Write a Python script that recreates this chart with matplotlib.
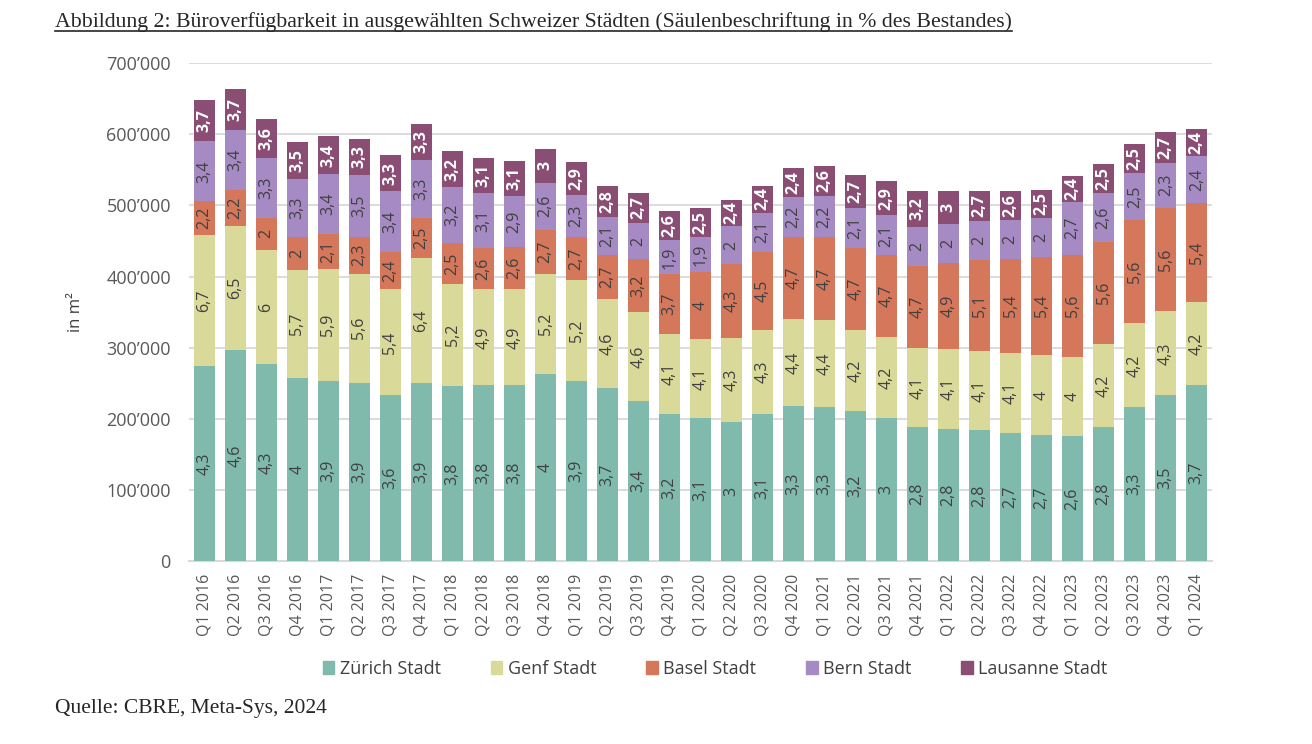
import matplotlib
matplotlib.use("Agg")
import matplotlib.pyplot as plt
from matplotlib.lines import Line2D
from matplotlib.patches import Patch
import numpy as np

quarters = ["Q1 2016", "Q2 2016", "Q3 2016", "Q4 2016", "Q1 2017", "Q2 2017", "Q3 2017", "Q4 2017",
            "Q1 2018", "Q2 2018", "Q3 2018", "Q4 2018", "Q1 2019", "Q2 2019", "Q3 2019", "Q4 2019",
            "Q1 2020", "Q2 2020", "Q3 2020", "Q4 2020", "Q1 2021", "Q2 2021", "Q3 2021", "Q4 2021",
            "Q1 2022", "Q2 2022", "Q3 2022", "Q4 2022", "Q1 2023", "Q2 2023", "Q3 2023", "Q4 2023",
            "Q1 2024"]

# available office space in m2
zuerich = [274000, 297000, 277000, 257000, 253000, 251000, 233000, 250000, 246000, 247000, 247000,
           263000, 253000, 243000, 225000, 207000, 201000, 195000, 206000, 218000, 216000, 211000,
           201000, 188000, 186000, 184000, 180000, 177000, 176000, 188000, 216000, 233000, 247000]
genf = [184000, 174000, 160000, 152000, 158000, 153000, 149000, 176000, 143000, 135000, 135000,
        141000, 142000, 126000, 125000, 112000, 111000, 119000, 119000, 122000, 123000, 114000,
        114000, 112000, 112000, 112000, 112000, 112000, 111000, 117000, 118000, 118000, 117000]
basel = [48000, 51000, 46000, 46000, 49000, 52000, 53000, 56000, 58000, 58000, 60000,
         62000, 61000, 62000, 74000, 84000, 94000, 103000, 110000, 116000, 116000, 115000,
         115000, 115000, 121000, 127000, 133000, 139000, 144000, 143000, 145000, 146000, 140000]
bern = [84000, 84000, 84000, 82000, 84000, 87000, 85000, 82000, 79000, 78000, 71000,
        66000, 58000, 53000, 52000, 48000, 50000, 54000, 55000, 56000, 58000, 57000,
        56000, 55000, 55000, 55000, 54000, 54000, 74000, 70000, 66000, 63000, 65000]
lausanne = [58000, 58000, 55000, 52000, 53000, 51000, 51000, 51000, 50000, 49000, 49000,
            48000, 47000, 44000, 42000, 41000, 40000, 37000, 38000, 40000, 43000, 46000,
            48000, 51000, 47000, 43000, 42000, 40000, 37000, 40000, 41000, 43000, 38000]

# bar labels: vacancy rate in % of stock
pct_zuerich = [4.3, 4.6, 4.3, 4, 3.9, 3.9, 3.6, 3.9, 3.8, 3.8, 3.8, 4, 3.9, 3.7, 3.4, 3.2, 3.1,
               3, 3.1, 3.3, 3.3, 3.2, 3, 2.8, 2.8, 2.8, 2.7, 2.7, 2.6, 2.8, 3.3, 3.5, 3.7]
pct_genf = [6.7, 6.5, 6, 5.7, 5.9, 5.6, 5.4, 6.4, 5.2, 4.9, 4.9, 5.2, 5.2, 4.6, 4.6, 4.1, 4.1,
            4.3, 4.3, 4.4, 4.4, 4.2, 4.2, 4.1, 4.1, 4.1, 4.1, 4, 4, 4.2, 4.2, 4.3, 4.2]
pct_basel = [2.2, 2.2, 2, 2, 2.1, 2.3, 2.4, 2.5, 2.5, 2.6, 2.6, 2.7, 2.7, 2.7, 3.2, 3.7, 4,
             4.3, 4.5, 4.7, 4.7, 4.7, 4.7, 4.7, 4.9, 5.1, 5.4, 5.4, 5.6, 5.6, 5.6, 5.6, 5.4]
pct_bern = [3.4, 3.4, 3.3, 3.3, 3.4, 3.5, 3.4, 3.3, 3.2, 3.1, 2.9, 2.6, 2.3, 2.1, 2, 1.9, 1.9,
            2, 2.1, 2.2, 2.2, 2.1, 2.1, 2, 2, 2, 2, 2, 2.7, 2.6, 2.5, 2.3, 2.4]
pct_lausanne = [3.7, 3.7, 3.6, 3.5, 3.4, 3.3, 3.3, 3.3, 3.2, 3.1, 3.1, 3, 2.9, 2.8, 2.7, 2.6, 2.5,
                2.4, 2.4, 2.4, 2.6, 2.7, 2.9, 3.2, 3, 2.7, 2.6, 2.5, 2.4, 2.5, 2.5, 2.7, 2.4]

cities = ["Zürich Stadt", "Genf Stadt", "Basel Stadt", "Bern Stadt", "Lausanne Stadt"]
colors = ["#7FBAAC", "#D9D99A", "#D4775A", "#A68AC4", "#8A4D73"]
series = [zuerich, genf, basel, bern, lausanne]
labels = [pct_zuerich, pct_genf, pct_basel, pct_bern, pct_lausanne]

sans = "Open Sans"
grey = "#404040"

fig = plt.figure(figsize=(13.12, 7.44), dpi=100)
ax = fig.add_axes([0.144, 0.246, 0.78, 0.669])

x = np.arange(len(quarters))
bottom = np.zeros(len(quarters))
for name, vals, col, pct in zip(cities, series, colors, labels):
    vals = np.array(vals, dtype=float)
    ax.bar(x, vals, 0.68, bottom=bottom, color=col, label=name, zorder=3)
    last = name == "Lausanne Stadt"
    for xi, b, v, p in zip(x, bottom, vals, pct):
        ax.text(xi, b + v / 2, f"{p:g}".replace(".", ","), rotation=90, ha="center", va="center",
                fontsize=11.5, color="white" if last else grey,
                fontweight="bold" if last else "normal", family=sans, zorder=4)
    bottom += vals

ax.set_xlim(-0.5, len(quarters) - 0.5)
ax.set_ylim(0, 700000)
ax.set_yticks(np.arange(0, 700001, 100000))
ax.set_yticklabels([f"{int(v):,}".replace(",", "’") for v in np.arange(0, 700001, 100000)],
                   fontsize=13, color="#595959", family=sans)
ax.set_xticks(x)
ax.set_xticklabels(quarters, rotation=90, fontsize=11.5, color="#595959", family=sans)
ax.tick_params(axis="both", length=0)
ax.tick_params(axis="y", pad=13)
ax.tick_params(axis="x", pad=9)
ax.grid(axis="y", color="#D9D9D9", linewidth=1.3, zorder=0)
for s in ["top", "right", "left"]:
    ax.spines[s].set_visible(False)
ax.spines["bottom"].set_color("#D9D9D9")
ax.spines["bottom"].set_linewidth(1.5)
ax.set_ylabel("in m²", fontsize=12, color=grey, family=sans, labelpad=16)

handles = [Patch(color=c) for c in colors]
fig.legend(handles, cities, loc="center", bbox_to_anchor=(0.545, 0.101), ncol=5, frameon=False,
           handlelength=0.65, handleheight=0.65, handletextpad=0.3, columnspacing=2.75,
           prop={"family": sans, "size": 13}, labelcolor=grey)

title = fig.text(0.042, 0.97, "Abbildung 2: Büroverfügbarkeit in ausgewählten Schweizer Städten "
                 "(Säulenbeschriftung in % des Bestandes)", fontsize=15.7, family="Liberation Serif",
                 color="#262626", va="center", ha="left")
fig.text(0.042, 0.048, "Quelle: CBRE, Meta-Sys, 2024", fontsize=15.5, family="Liberation Serif",
         color="#262626", va="center", ha="left")

# underline the title
fig.canvas.draw()
bb = title.get_window_extent().transformed(fig.transFigure.inverted())
fig.add_artist(Line2D([bb.x0, bb.x1], [bb.y0 + 0.002, bb.y0 + 0.002], color="#262626", linewidth=1.2))

fig.savefig("out.png", dpi=100)
